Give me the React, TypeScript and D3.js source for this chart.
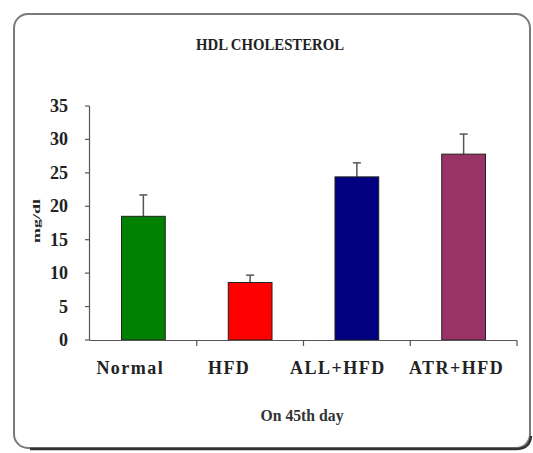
import { scaleBand, scaleLinear } from "d3";

const groups = ["Normal", "HFD", "ALL+HFD", "ATR+HFD"];
const means = [18.5, 8.6, 24.4, 27.8];
const errors = [3.2, 1.1, 2.1, 3.0];
const barColors = ["#008000", "#ff0000", "#000080", "#993366"];
const yTicks = [0, 5, 10, 15, 20, 25, 30, 35];

// category labels sit a bit left of their bars in the original
const labelShift = [-13, -21, -19, -7];

const W = 533;
const H = 453;
const serif = "Liberation Serif, Times New Roman, DejaVu Serif, serif";

export default function App() {
  const x = scaleBand<string>().domain(groups).range([90, 517]).paddingInner(0.59).paddingOuter(0.295);
  const y = scaleLinear().domain([0, 35]).range([340, 106]);
  const step = x.step();
  const bounds = groups.map((_, i) => 90 + step * (i + 1));

  return (
    <svg
      width={W}
      height={H}
      style={{ position: "absolute", left: 0, top: 0, background: "#fff" }}
    >
      {/* frame */}
      <rect x={14} y={14} width={516} height={434} rx={14} fill="#fff" stroke="#7a7a7a" strokeWidth={2} />
      <path d="M 30 449 L 516 449 Q 530 449 531 436" fill="none" stroke="#333" strokeWidth={2.5} />

      <text x={270} y={50} textAnchor="middle" fontFamily={serif} fontWeight="bold" fontSize={17} textLength={148} lengthAdjust="spacingAndGlyphs" fill="#222">
        HDL CHOLESTEROL
      </text>

      {/* y axis */}
      <line x1={89.5} x2={89.5} y1={y(35)} y2={y(0)} stroke="#555" strokeWidth={1.2} />
      {yTicks.map((t) => (
        <g key={t}>
          <line x1={85} x2={89.5} y1={y(t)} y2={y(t)} stroke="#555" strokeWidth={1.2} />
          <text x={68} y={y(t) + 6} textAnchor="end" fontFamily={serif} fontWeight="bold" fontSize={18} fill="#222">
            {t}
          </text>
        </g>
      ))}
      <text
        transform={`translate(40, ${y(17.8)}) rotate(-90)`}
        textAnchor="middle"
        fontFamily={serif}
        fontWeight="bold"
        fontSize={11}
        textLength={44}
        lengthAdjust="spacingAndGlyphs"
        fill="#222"
      >
        mg/dl
      </text>

      {/* bars */}
      {groups.map((g, i) => {
        const bx = x(g) ?? 0;
        const bw = x.bandwidth();
        const cx = bx + bw / 2;
        return (
          <g key={g}>
            <line x1={cx} x2={cx} y1={y(means[i])} y2={y(means[i] + errors[i])} stroke="#555" strokeWidth={1.5} />
            <line x1={cx - 4} x2={cx + 4} y1={y(means[i] + errors[i])} y2={y(means[i] + errors[i])} stroke="#555" strokeWidth={1.5} />
            <rect x={bx} y={y(means[i])} width={bw} height={y(0) - y(means[i])} fill={barColors[i]} stroke="#222" strokeWidth={1} />
          </g>
        );
      })}

      {/* x axis */}
      <line x1={89.5} x2={517} y1={340.5} y2={340.5} stroke="#555" strokeWidth={1.2} />
      {bounds.map((b, i) => (
        <line key={i} x1={b} x2={b} y1={340.5} y2={346} stroke="#555" strokeWidth={1.2} />
      ))}
      {groups.map((g, i) => (
        <text
          key={g}
          x={(x(g) ?? 0) + x.bandwidth() / 2 + labelShift[i]}
          y={374}
          textAnchor="middle"
          fontFamily={serif}
          fontWeight="bold"
          fontSize={18}
          letterSpacing={1.5}
          fill="#222"
        >
          {g}
        </text>
      ))}
      <text x={302} y={421} textAnchor="middle" fontFamily={serif} fontWeight="bold" fontSize={16} textLength={83} lengthAdjust="spacingAndGlyphs" fill="#333">
        On 45th day
      </text>
    </svg>
  );
}
